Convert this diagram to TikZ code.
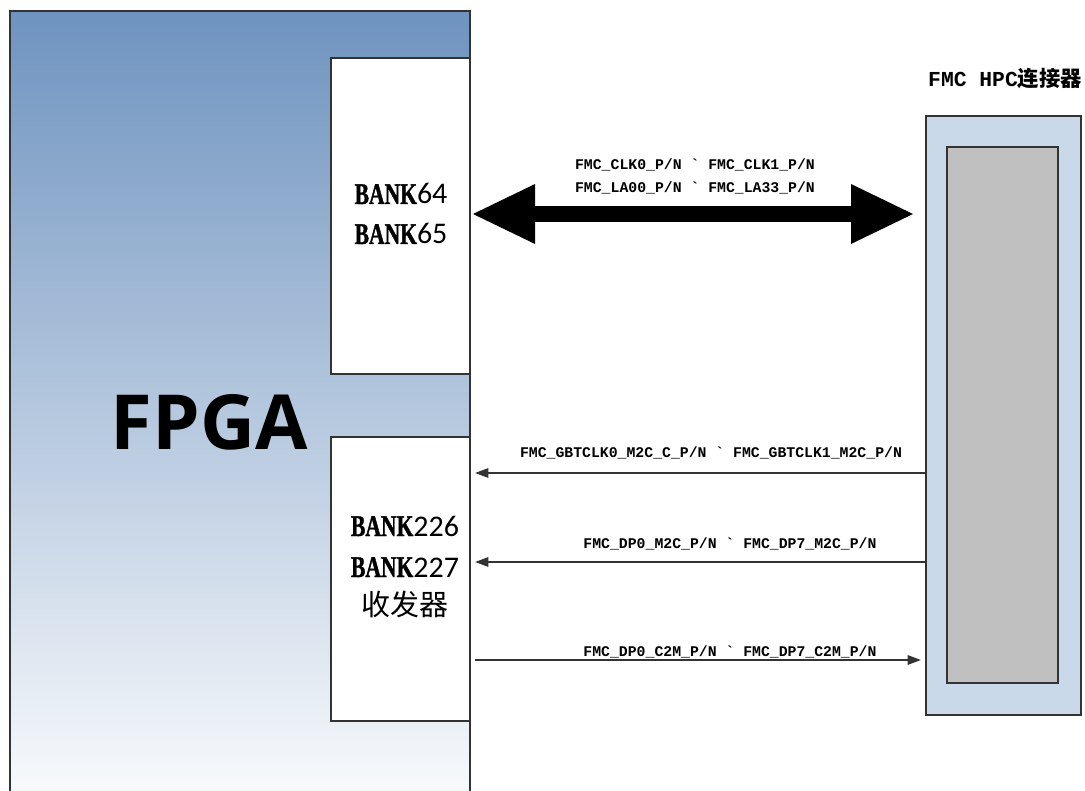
\documentclass[tikz,border=0pt]{standalone}
\usepackage{fontspec}
\usetikzlibrary{arrows.meta}
\newfontfamily\lblfont{Liberation Mono}
\newfontfamily\bankfont{Liberation Serif}[UprightFont={* Bold}, FakeStretch=0.72, FakeBold=1.2]
\newfontfamily\digfont{Carlito}
\newfontfamily\cjkfont{Noto Sans CJK SC}
\newfontfamily\fpgafont{Open Sans}
\definecolor{fpgatop}{HTML}{6E93BF}
\definecolor{fpgabot}{HTML}{FBFCFD}
\definecolor{connblue}{HTML}{C9D9E9}
\definecolor{conngray}{HTML}{C0C0C0}
\definecolor{edgec}{HTML}{333333}
\begin{document}
\begin{tikzpicture}[x=0.75pt,y=-0.75pt,
  box/.style={draw=edgec, line width=1.5pt, anchor=north west, inner sep=0pt},
  lbl/.style={font=\lblfont\bfseries\fontsize{11.1pt}{13pt}\selectfont, anchor=base, inner sep=0pt},
  banktxt/.style={font=\fontsize{22.5pt}{26pt}\selectfont, anchor=base, inner sep=0pt},
  thinarrow/.style={draw=edgec, line width=1.5pt, -{Triangle[length=10pt,width=7pt]}},
  bigarrow/.style={draw=black, line width=12pt, {Triangle[length=48pt,width=41pt]}-{Triangle[length=48pt,width=41pt]}}]
\useasboundingbox (0,0) rectangle (1085,791);
\clip (0,0) rectangle (1085,791);
% FPGA body
\node[box, top color=fpgatop, bottom color=fpgabot, minimum width=345pt, minimum height=600pt] (fpga) at (9,10) {};
\node[box, fill=white, minimum width=104.25pt, minimum height=237pt] (b1) at (330,57) {};
\node[box, fill=white, minimum width=104.25pt, minimum height=213pt] (b2) at (330,436) {};
% connector
\node[box, fill=connblue, minimum width=116.25pt, minimum height=449.25pt] (conn) at (925,115) {};
\node[box, fill=conngray, minimum width=83.25pt, minimum height=402pt] (connin) at (946,146) {};
% texts
\node[anchor=base, inner sep=0pt, font=\fpgafont\bfseries\fontsize{57pt}{62pt}\selectfont] (fpgatxt) at (209,450) {FPGA};
\node[banktxt] (t64) at (401,204) {{\bankfont BANK}{\digfont 64}};
\node[banktxt] (t65) at (401,244) {{\bankfont BANK}{\digfont 65}};
\node[banktxt] (t226) at (405,536) {{\bankfont BANK}{\digfont 226}};
\node[banktxt] (t227) at (405,577) {{\bankfont BANK}{\digfont 227}};
\node[anchor=base, inner sep=0pt, font=\cjkfont\fontsize{21.75pt}{26pt}\selectfont] (tx) at (405,615) {收发器};
\node[anchor=base, inner sep=0pt] (title) at (1005,87) {{\lblfont\bfseries\fontsize{16pt}{19pt}\selectfont FMC HPC}{\cjkfont\bfseries\fontsize{16pt}{19pt}\selectfont 连接器}};
% labels
\node[lbl] (l1a) at (695,170) {FMC\_CLK0\_P/N \textasciigrave{} FMC\_CLK1\_P/N};
\node[lbl] (l1b) at (695,193) {FMC\_LA00\_P/N \textasciigrave{} FMC\_LA33\_P/N};
\node[lbl] (l2) at (711,457) {FMC\_GBTCLK0\_M2C\_C\_P/N \textasciigrave{} FMC\_GBTCLK1\_M2C\_P/N};
\node[lbl] (l3) at (730,548) {FMC\_DP0\_M2C\_P/N \textasciigrave{} FMC\_DP7\_M2C\_P/N};
\node[lbl] (l4) at (730,656) {FMC\_DP0\_C2M\_P/N \textasciigrave{} FMC\_DP7\_C2M\_P/N};
% arrows
\draw[bigarrow, shorten >=7.5pt] (b1.east |- 0,214) -- (conn.west |- 0,214);
\draw[thinarrow, shorten >=3pt] (conn.west |- 0,473) -- (b2.east |- 0,473);
\draw[thinarrow, shorten >=3pt] (conn.west |- 0,562) -- (b2.east |- 0,562);
\draw[thinarrow, shorten >=3pt, shorten <=3pt] (b2.east |- 0,660) -- (conn.west |- 0,660);
\end{tikzpicture}
\end{document}
